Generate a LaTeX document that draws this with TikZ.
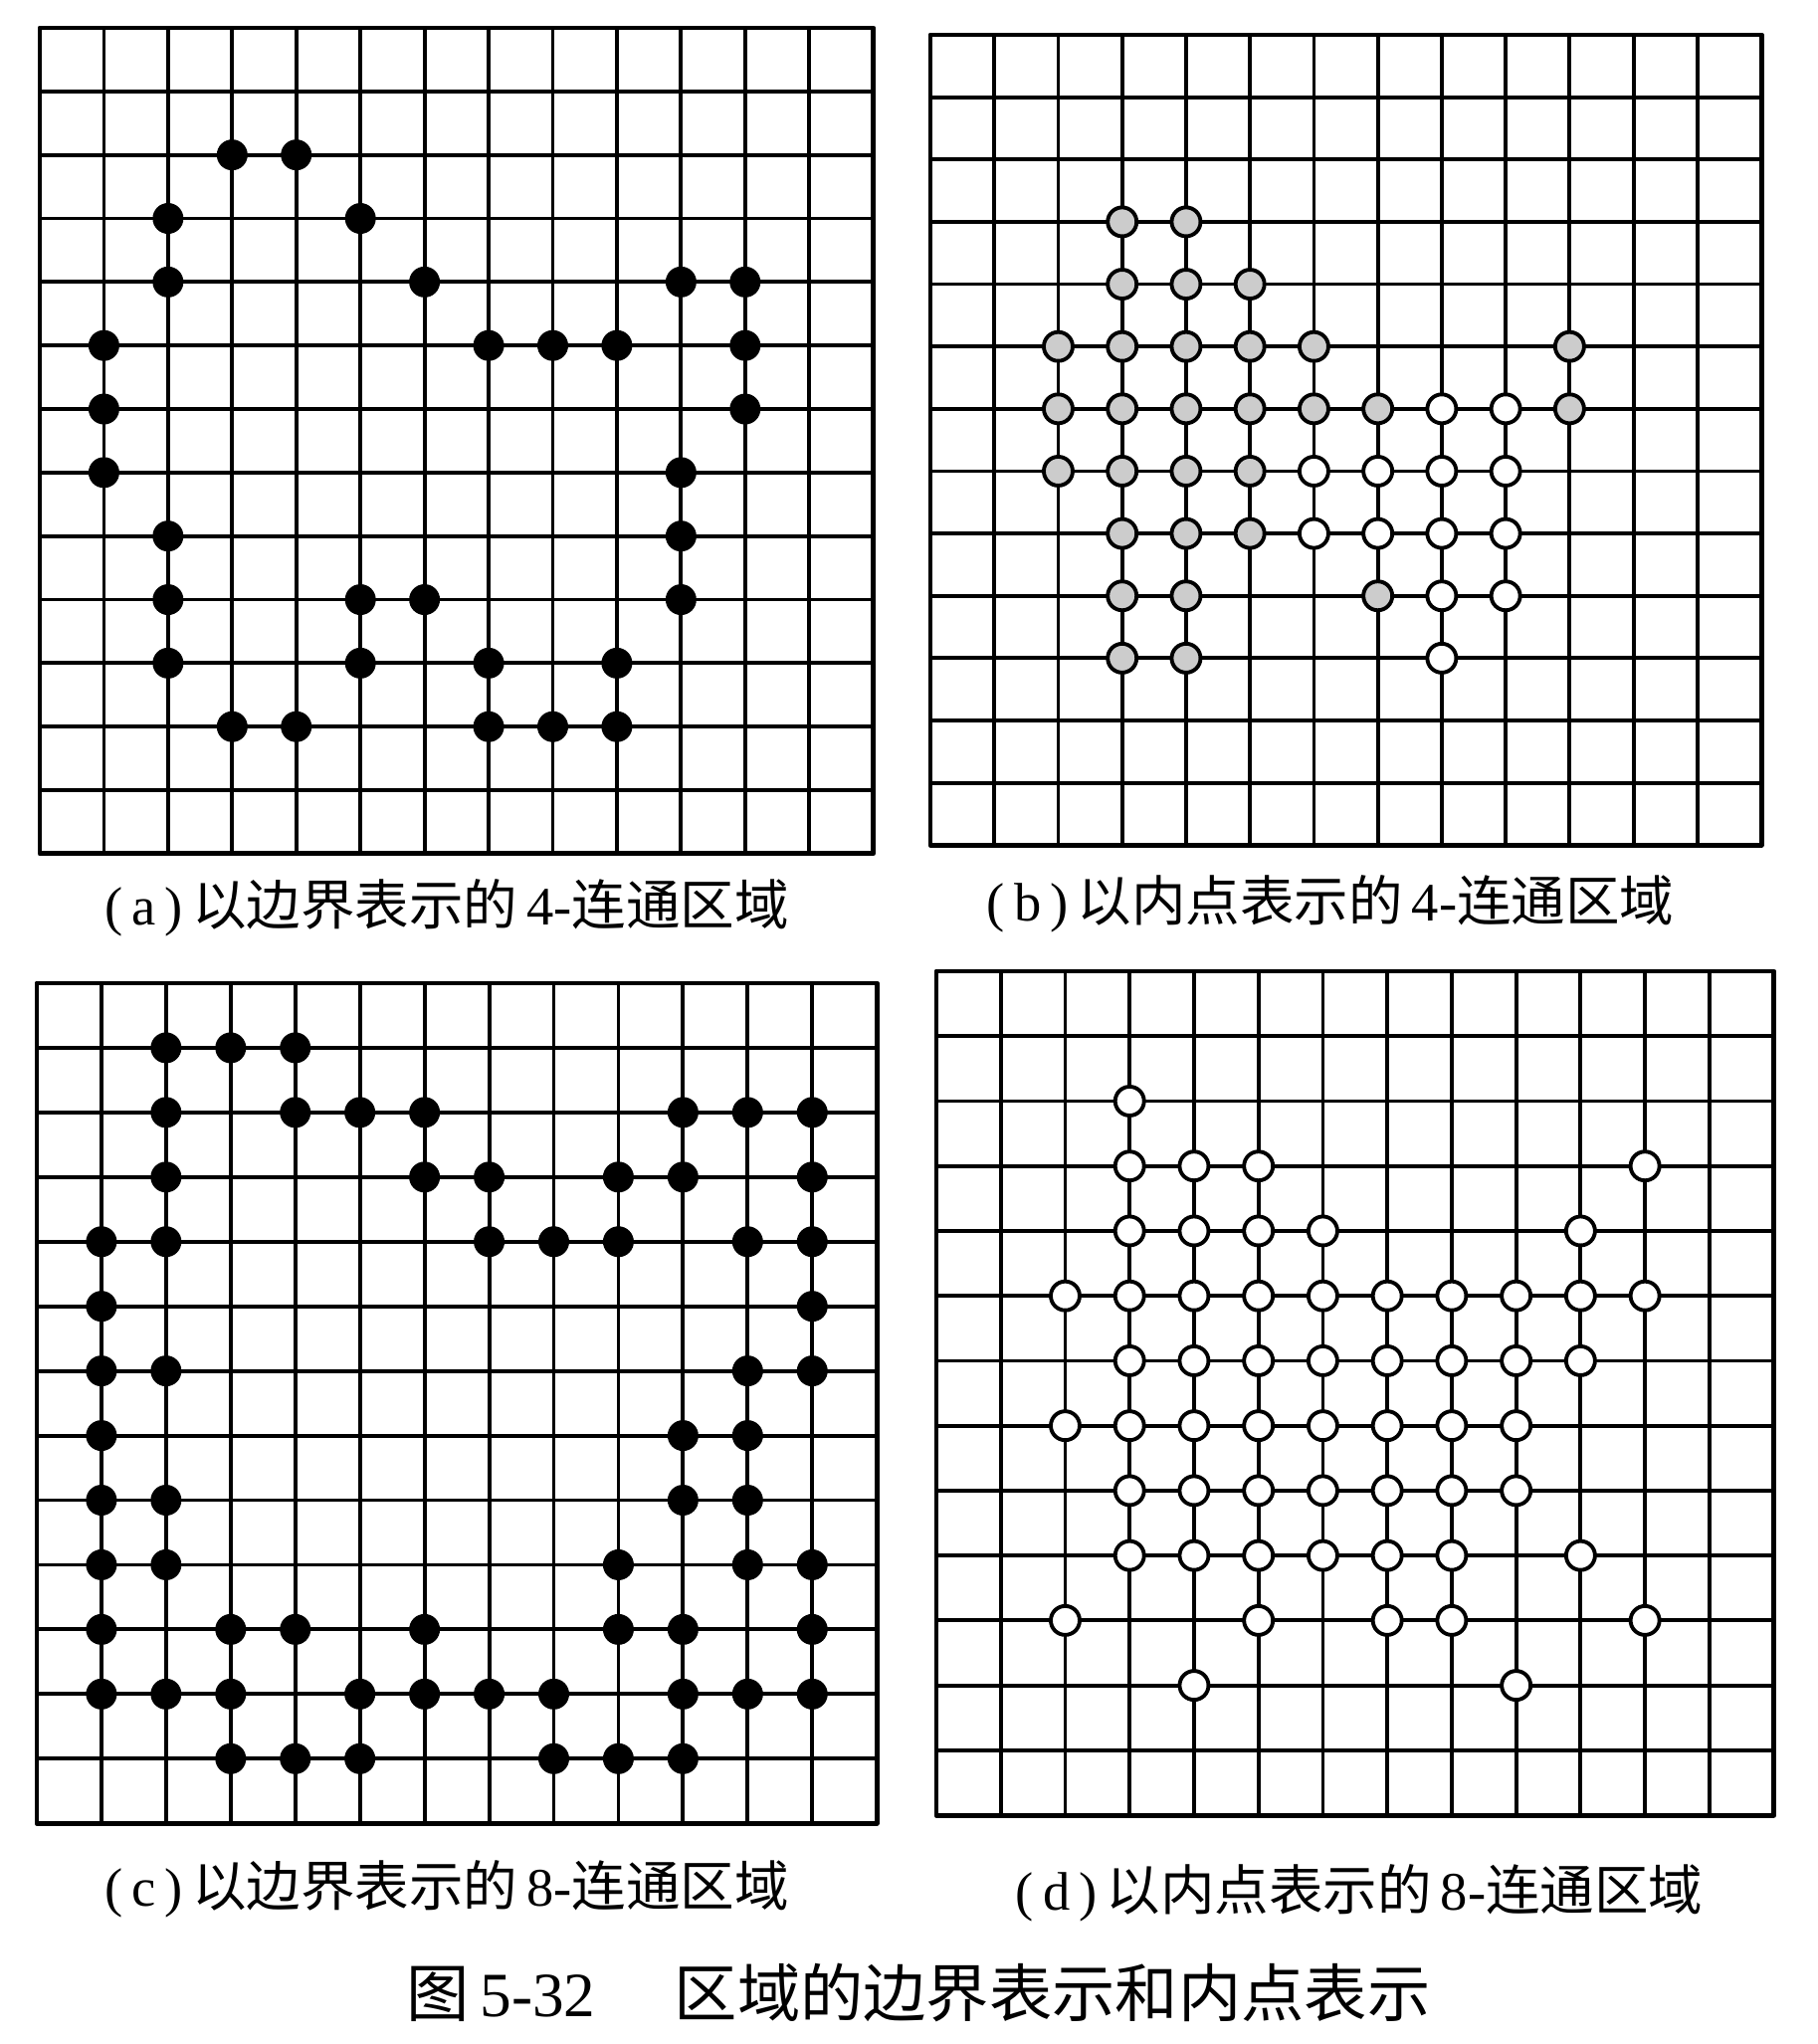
\documentclass[tikz,border=0pt]{standalone}
\usepackage{fontspec}
\setmainfont{Liberation Serif}
\newfontfamily\cjk{Noto Sans CJK SC}
\tikzset{
  grid line/.style={line width=1.1pt,draw=black},
  grid frame/.style={line width=1.4pt,draw=black,line join=round},
  boundary pixel/.style={circle,fill=black,inner sep=0pt,minimum size=0.31cm},
  interior pixel/.style={circle,draw=black,line width=1.1pt,fill=white,inner sep=0pt,minimum size=0.29cm},
  shaded pixel/.style={interior pixel,fill=black!20},
  caption text/.style={font=\fontsize{15.5}{19}\selectfont},
  figure title/.style={font=\fontsize{18}{22}\selectfont}
}

\begin{document}
\begin{tikzpicture}[x=0.01cm,y=-0.01cm]
  \useasboundingbox (0,0) rectangle (1826,2054);

  % (a) boundary, 4-connected
  \begin{scope}[shift={(40,28)},x=0.644cm,y=-0.638cm]
    \foreach \k in {1,...,12} {
      \draw[grid line] (\k,0) -- (\k,13);
      \draw[grid line] (0,\k) -- (13,\k);
    }
    \draw[grid frame] (0,0) rectangle (13,13);
    \foreach \c/\r in {3/2,4/2,2/3,5/3,2/4,6/4,10/4,11/4,1/5,7/5,8/5,9/5,11/5,
        1/6,11/6,1/7,10/7,2/8,10/8,2/9,5/9,6/9,10/9,2/10,5/10,7/10,9/10,
        3/11,4/11,7/11,8/11,9/11}
      \node[boundary pixel] (a-\c-\r) at (\c,\r) {};
  \end{scope}

  % (b) interior, 4-connected
  \begin{scope}[shift={(935,35)},x=0.642cm,y=-0.626cm]
    \foreach \k in {1,...,12} {
      \draw[grid line] (\k,0) -- (\k,13);
      \draw[grid line] (0,\k) -- (13,\k);
    }
    \draw[grid frame] (0,0) rectangle (13,13);
    \foreach \c/\r in {3/3,4/3,3/4,4/4,5/4,2/5,3/5,4/5,5/5,6/5,10/5,
        2/6,3/6,4/6,5/6,6/6,7/6,10/6,2/7,3/7,4/7,5/7,3/8,4/8,5/8,
        3/9,4/9,7/9,3/10,4/10}
      \node[shaded pixel] (b-\c-\r) at (\c,\r) {};
    \foreach \c/\r in {8/6,9/6,6/7,7/7,8/7,9/7,6/8,7/8,8/8,9/8,8/9,9/9,8/10}
      \node[interior pixel] (b-\c-\r) at (\c,\r) {};
  \end{scope}

  % (c) boundary, 8-connected
  \begin{scope}[shift={(37,988)},x=0.649cm,y=-0.649cm]
    \foreach \k in {1,...,12} {
      \draw[grid line] (\k,0) -- (\k,13);
      \draw[grid line] (0,\k) -- (13,\k);
    }
    \draw[grid frame] (0,0) rectangle (13,13);
    \foreach \c/\r in {2/1,3/1,4/1,2/2,4/2,5/2,6/2,10/2,11/2,12/2,
        2/3,6/3,7/3,9/3,10/3,12/3,1/4,2/4,7/4,8/4,9/4,11/4,12/4,
        1/5,12/5,1/6,2/6,11/6,12/6,1/7,10/7,11/7,1/8,2/8,10/8,11/8,
        1/9,2/9,9/9,11/9,12/9,1/10,3/10,4/10,6/10,9/10,10/10,12/10,
        1/11,2/11,3/11,5/11,6/11,7/11,8/11,10/11,11/11,12/11,
        3/12,4/12,5/12,8/12,9/12,10/12}
      \node[boundary pixel] (c-\c-\r) at (\c,\r) {};
  \end{scope}

  % (d) interior, 8-connected
  \begin{scope}[shift={(941,976)},x=0.647cm,y=-0.652cm]
    \foreach \k in {1,...,12} {
      \draw[grid line] (\k,0) -- (\k,13);
      \draw[grid line] (0,\k) -- (13,\k);
    }
    \draw[grid frame] (0,0) rectangle (13,13);
    \foreach \c/\r in {3/2,3/3,4/3,5/3,11/3,3/4,4/4,5/4,6/4,10/4,
        2/5,3/5,4/5,5/5,6/5,7/5,8/5,9/5,10/5,11/5,
        3/6,4/6,5/6,6/6,7/6,8/6,9/6,10/6,
        2/7,3/7,4/7,5/7,6/7,7/7,8/7,9/7,
        3/8,4/8,5/8,6/8,7/8,8/8,9/8,
        3/9,4/9,5/9,6/9,7/9,8/9,10/9,
        2/10,5/10,7/10,8/10,11/10,4/11,9/11}
      \node[interior pixel] (d-\c-\r) at (\c,\r) {};
  \end{scope}

  \node[caption text] (cap-a) at (449,912) {(\,a\,)\,{\cjk 以边界表示的}\,4-{\cjk 连通区域}};
  \node[caption text] (cap-b) at (1337,908) {(\,b\,)\,{\cjk 以内点表示的}\,4-{\cjk 连通区域}};
  \node[caption text] (cap-c) at (449,1898) {(\,c\,)\,{\cjk 以边界表示的}\,8-{\cjk 连通区域}};
  \node[caption text] (cap-d) at (1366,1902) {(\,d\,)\,{\cjk 以内点表示的}\,8-{\cjk 连通区域}};
  \node[figure title] (title) at (923,2002) {{\cjk 图}\,5-32\quad\ {\cjk 区域的边界表示和内点表示}};
\end{tikzpicture}
\end{document}
